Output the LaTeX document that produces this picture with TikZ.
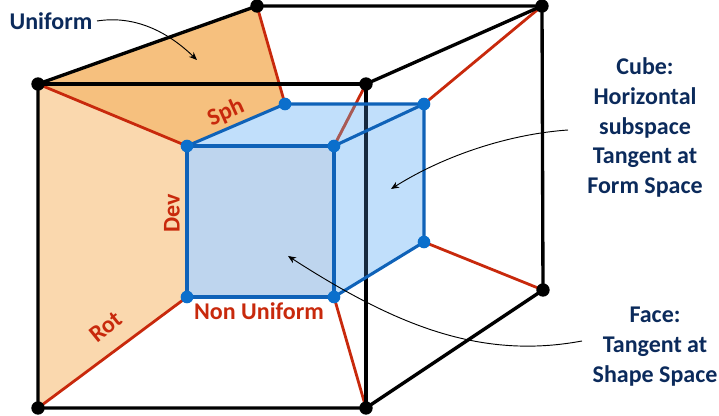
\documentclass[tikz,border=0pt]{standalone}
\usepackage{fontspec}
\setmainfont{Carlito}
\usetikzlibrary{arrows.meta}
\definecolor{navy}{HTML}{0B2A5B}
\definecolor{redl}{HTML}{C8290C}
\definecolor{fadedred}{HTML}{A95A55}
\definecolor{bluel}{HTML}{0F62B8}
\definecolor{blued}{HTML}{0B6FCC}
\definecolor{innerblack}{HTML}{16293F}
\definecolor{orangedark}{HTML}{F6C07E}
\definecolor{orangelight}{HTML}{FAD8AE}
\definecolor{bluefill}{HTML}{A6D2FA}
\definecolor{frontfill}{HTML}{BED5EE}
\tikzset{
 x=0.75pt,y=-0.75pt,
 blk/.style={draw=black,line width=2.5pt,line cap=round},
 redline/.style={draw=redl,line width=2.1pt},
 blueline/.style={draw=bluel,line width=2.3pt},
 bdot/.style={circle,fill=black,inner sep=0pt,minimum size=10pt},
 cdot/.style={circle,fill=blued,inner sep=0pt,minimum size=9.5pt},
 lab/.style={font=\bfseries\fontsize{18pt}{22.3pt}\selectfont,text=navy,align=center,inner sep=0pt},
 rlab/.style={font=\bfseries\fontsize{18pt}{22pt}\selectfont,text=redl,inner sep=0pt},
 thin arrow/.style={draw=black,line width=0.7pt,-{Stealth[length=6pt,width=5pt]}}
}
\begin{document}
\begin{tikzpicture}
\useasboundingbox (0,0) rectangle (719,416);
% coordinates
\coordinate (pA) at (38,84);
\coordinate (pB) at (366,84);
\coordinate (pC) at (366,408);
\coordinate (pD) at (38,408);
\coordinate (pE) at (257,6);
\coordinate (pF) at (542,6);
\coordinate (pG) at (543,290);
\coordinate (qa) at (187,146);
\coordinate (qb) at (334,146);
\coordinate (qc) at (334,297);
\coordinate (qd) at (187,297);
\coordinate (qe) at (285,104);
\coordinate (qf) at (424,104);
\coordinate (qg) at (424,242);
\coordinate (fadeEnd) at (355.7,104);
\coordinate (lineIn) at (366,104);
\coordinate (lineOut) at (366,278);
% orange faces
\fill[orangedark] (pA) -- (pE) -- (qe) -- (qa) -- cycle;
\fill[orangelight] (pA) -- (qa) -- (qd) -- (pD) -- cycle;
% red connectors
\draw[redline] (pA) -- (qa);
\draw[redline] (pE) -- (qe);
\draw[redline] (pF) -- (qf);
\draw[redline] (pB) -- (qb);
\draw[redline] (pD) -- (qd);
\draw[redline] (pC) -- (qc);
\draw[redline] (pG) -- (qg);
% black cube
\draw[blk] (pA) -- (pE) -- (pF) -- (pG) -- (pC) -- (pD) -- cycle;
\draw[blk] (pA) -- (pB) -- (pC);
\draw[blk] (pB) -- (pF);
% blue cube
\fill[bluefill,fill opacity=0.7] (qa) -- (qe) -- (qf) -- (qg) -- (qc) -- (qb) -- cycle;
\fill[frontfill] (qa) -- (qb) -- (qc) -- (qd) -- cycle;
\draw[draw=innerblack,line width=2.5pt] (lineIn) -- (lineOut);
\draw[draw=fadedred,line width=2.1pt] (qb) -- (fadeEnd);
\draw[blueline] (qa) -- (qb) -- (qc) -- (qd) -- cycle;
\draw[blueline] (qa) -- (qe) -- (qf) -- (qg) -- (qc);
\draw[blueline] (qb) -- (qf);
% dots
\foreach \n in {A,B,C,D,E,F,G} \node[bdot] (d\n) at (p\n) {};
\node[cdot] (da) at (qa) {};
\node[cdot] (db) at (qb) {};
\node[cdot] (dc) at (qc) {};
\node[cdot] (dd) at (qd) {};
\node[cdot] (de) at (qe) {};
\node[cdot] (df) at (qf) {};
\node[cdot] (dg) at (qg) {};
% labels
\node[lab] (uni) at (51,21) {Uniform};
\node[lab] (cube) at (645,127.5) {Cube:\\Horizontal\\subspace\\Tangent at\\Form Space};
\node[lab] (face) at (655,346.5) {Face:\\Tangent at\\Shape Space};
\node[rlab,rotate=24] (sph) at (226,113) {Sph};
\node[rlab,rotate=90] (dev) at (172,213) {Dev};
\node[rlab,rotate=39] (rot) at (106,327) {Rot};
\node[rlab] (non) at (259,311) {Non Uniform};
% callouts
\coordinate (t1) at (197,60);
\coordinate (t2) at (391,189);
\coordinate (t3) at (288,256);
\draw[thin arrow] (97,21) .. controls (135,15) and (168,32) .. (t1);
\draw[thin arrow] (568,130) .. controls (510,134) and (445,155) .. (t2);
\draw[thin arrow] (582,341) .. controls (480,360) and (395,325) .. (t3);
\end{tikzpicture}
\end{document}
